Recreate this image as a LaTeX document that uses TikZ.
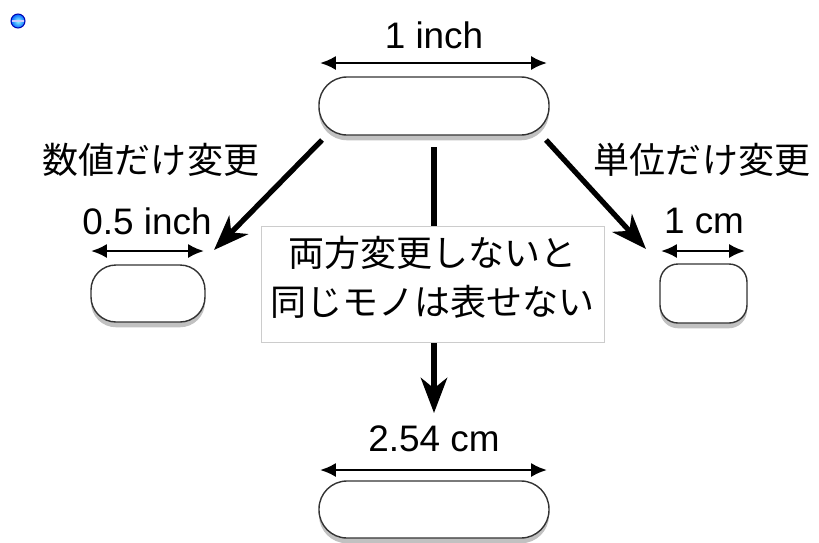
\documentclass[tikz,border=0pt]{standalone}
\usepackage{fontspec}
\setmainfont{Liberation Sans}
\newfontfamily\jp{Noto Sans CJK JP}
\usetikzlibrary{arrows.meta,shadows}
\begin{document}
\begin{tikzpicture}[x=0.02cm,y=-0.02cm,
  pill/.style={draw=black!80,line width=0.8pt,fill=white,inner sep=0pt,
    drop shadow={opacity=0.35,shadow xshift=0pt,shadow yshift=-3pt,fill=black!70}},
  dim/.style={line width=1.4pt,{Latex[length=9pt,width=8pt]}-{Latex[length=9pt,width=8pt]}},
  bigarrow/.style={line width=3pt,-{Stealth[length=20pt,width=15pt,inset=6pt]}},
  lbl/.style={font=\fontsize{21}{23}\selectfont,inner sep=0pt},
  jlbl/.style={font=\jp\fontsize{20.5}{26}\selectfont,inner sep=0pt}]
\useasboundingbox (0,0) rectangle (819,542);
% icon
\shade[inner color=cyan!40,outer color=blue!60!cyan,draw=blue!70!black,line width=0.6pt] (18,21) circle (7);
\draw[blue!20!white,line width=0.9pt] (12,21) -- (24,21);
% pills
\node[pill,minimum width=230*0.02cm,minimum height=58*0.02cm,rounded corners=0.56cm] (top) at (434,106) {};
\node[pill,minimum width=114*0.02cm,minimum height=57*0.02cm,rounded corners=0.5cm] (left) at (148,293.5) {};
\node[pill,minimum width=87*0.02cm,minimum height=59*0.02cm,rounded corners=0.36cm] (right) at (703.5,293.5) {};
\node[pill,minimum width=230*0.02cm,minimum height=57*0.02cm,rounded corners=0.56cm] (bottom) at (434,509.5) {};
% dimension arrows
\coordinate (t1) at (320,63); \coordinate (t2) at (547,63);
\draw[dim] (t1) -- (t2);
\node[lbl] (tl) at (434,35) {1 inch};
\coordinate (l1) at (91,251); \coordinate (l2) at (204,251);
\draw[dim] (l1) -- (l2);
\node[lbl] (ll) at (147,221) {0.5 inch};
\coordinate (r1) at (661,251); \coordinate (r2) at (745,251);
\draw[dim] (r1) -- (r2);
\node[lbl] (rl) at (704,221) {1 cm};
\coordinate (b1) at (320,470); \coordinate (b2) at (547,470);
\draw[dim] (b1) -- (b2);
\node[lbl] (bl) at (434,439) {2.54 cm};
% big arrows
\coordinate (la) at (322,140); \coordinate (lt) at (214,250);
\draw[bigarrow] (la) -- (lt);
\coordinate (ra) at (546,140); \coordinate (rt) at (646,249);
\draw[bigarrow] (ra) -- (rt);
\coordinate (ca) at (434,147); \coordinate (ct) at (434,413);
\draw[bigarrow] (ca) -- (ct);
% side labels
\node[jlbl] (lj) at (151,160) {数値だけ変更};
\node[jlbl] (rj) at (702,160) {単位だけ変更};
% center box
\node[draw=black!20,line width=0.4pt,fill=white,minimum width=343*0.02cm,minimum height=116*0.02cm,inner sep=0pt] (box) at (432.5,284) {};
\node[jlbl,align=center] (bt) at (432.5,277) {両方変更しないと\\[2pt]同じモノは表せない};
\end{tikzpicture}
\end{document}
